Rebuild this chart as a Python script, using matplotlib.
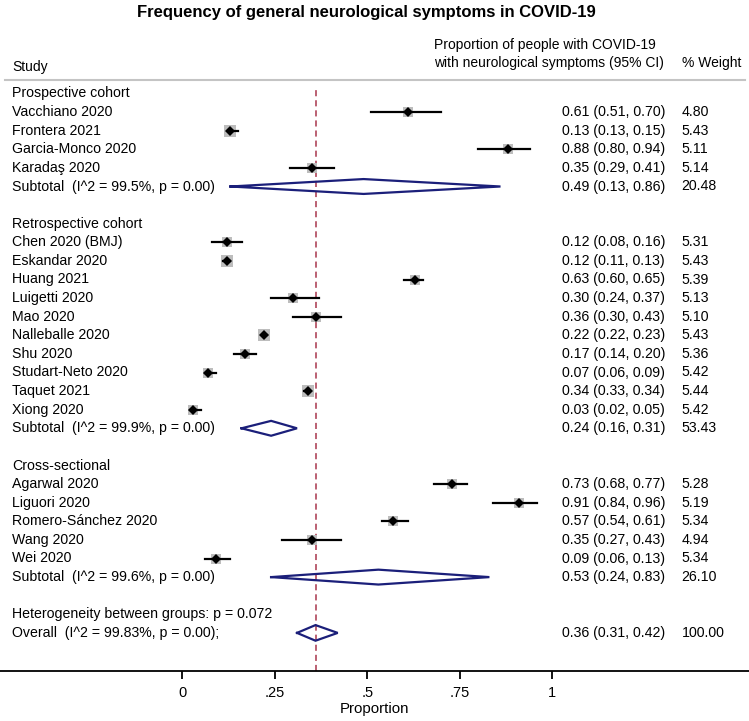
import numpy as np
import matplotlib.pyplot as plt
import matplotlib.transforms as mtransforms
from matplotlib.lines import Line2D

plt.rcParams['font.family'] = ['Liberation Sans', 'DejaVu Sans']

# ---- data ----
groups = ["Prospective cohort", "Retrospective cohort", "Cross-sectional"]

studies = [
    ["Vacchiano 2020", "Frontera 2021", "Garcia-Monco 2020", "Karadaş 2020"],
    ["Chen 2020 (BMJ)", "Eskandar 2020", "Huang 2021", "Luigetti 2020", "Mao 2020",
     "Nalleballe 2020", "Shu 2020", "Studart-Neto 2020", "Taquet 2021", "Xiong 2020"],
    ["Agarwal 2020", "Liguori 2020", "Romero-Sánchez 2020", "Wang 2020", "Wei 2020"],
]
est = [
    [0.61, 0.13, 0.88, 0.35],
    [0.12, 0.12, 0.63, 0.30, 0.36, 0.22, 0.17, 0.07, 0.34, 0.03],
    [0.73, 0.91, 0.57, 0.35, 0.09],
]
lo = [
    [0.51, 0.13, 0.80, 0.29],
    [0.08, 0.11, 0.60, 0.24, 0.30, 0.22, 0.14, 0.06, 0.33, 0.02],
    [0.68, 0.84, 0.54, 0.27, 0.06],
]
hi = [
    [0.70, 0.15, 0.94, 0.41],
    [0.16, 0.13, 0.65, 0.37, 0.43, 0.23, 0.20, 0.09, 0.34, 0.05],
    [0.77, 0.96, 0.61, 0.43, 0.13],
]
weight = [
    [4.80, 5.43, 5.11, 5.14],
    [5.31, 5.43, 5.39, 5.13, 5.10, 5.43, 5.36, 5.42, 5.44, 5.42],
    [5.28, 5.19, 5.34, 4.94, 5.34],
]
sub_est = [0.49, 0.24, 0.53]
sub_lo = [0.13, 0.16, 0.24]
sub_hi = [0.86, 0.31, 0.83]
sub_w = [20.48, 53.43, 26.10]
sub_i2 = ["99.5%", "99.9%", "99.6%"]

overall = (0.36, 0.31, 0.42)
overall_label = "Overall  (I^2 = 99.83%, p = 0.00);"
het_label = "Heterogeneity between groups: p = 0.072"

xticks = [0, 0.25, 0.5, 0.75, 1]
xticklabels = ["0", ".25", ".5", ".75", "1"]

# ---- layout (pixels of a 749x721 figure) ----
W, H = 749, 721
x0_px, x1_px = 182.3, 552.3      # where 0 and 1 sit on the axis
top_px, bot_px = 87, 671         # start of ref line and axis line
row0_px, row_h = 93.5, 18.6

navy = "#1b1f7a"
red = "#a8354c"
font = 10.2
hfont = 10

fig = plt.figure(figsize=(W / 100, H / 100), dpi=100)
ax = fig.add_axes([0, 1 - bot_px / H, 1, (bot_px - top_px) / H])

unit = x1_px - x0_px
ax.set_xlim(-x0_px / unit, (W - x0_px) / unit)
ax.set_ylim((bot_px - row0_px) / row_h, (top_px - row0_px) / row_h)

tr = mtransforms.blended_transform_factory(ax.transAxes, ax.transData)
xs, xe, xw = 12 / W, 562.5 / W, 681.5 / W


def diamond(y, c, l, h, half):
    ax.plot([l, c, h, c, l], [y, y - half, y, y + half, y], color=navy, lw=1.6,
            solid_joinstyle="miter", zorder=3)


def row_text(y, label, ci, w):
    ax.text(xs, y, label, transform=tr, va="center", fontsize=font)
    if ci:
        ax.text(xe, y, ci, transform=tr, va="center", fontsize=font)
    if w:
        ax.text(xw, y, w, transform=tr, va="center", fontsize=font)


row = 0
for g in range(len(groups)):
    row_text(row, groups[g], None, None)
    row += 1
    for i, name in enumerate(studies[g]):
        ax.plot([lo[g][i], hi[g][i]], [row, row], color="black", lw=1.6, zorder=3)
        ax.plot(est[g][i], row, marker="s", color="#bdbdbd", ms=3.4 * np.sqrt(weight[g][i]),
                mew=0, zorder=2)
        ax.plot(est[g][i], row, marker="D", color="black", ms=5, mew=0, zorder=4)
        row_text(row, name, f"{est[g][i]:.2f} ({lo[g][i]:.2f}, {hi[g][i]:.2f})",
                 f"{weight[g][i]:.2f}")
        row += 1
    diamond(row, sub_est[g], sub_lo[g], sub_hi[g], 0.40)
    row_text(row, f"Subtotal  (I^2 = {sub_i2[g]}, p = 0.00)",
             f"{sub_est[g]:.2f} ({sub_lo[g]:.2f}, {sub_hi[g]:.2f})", f"{sub_w[g]:.2f}")
    row += 2

row_text(row, het_label, None, None)
row += 1
diamond(row, overall[0], overall[1], overall[2], 0.42)
row_text(row, overall_label, f"{overall[0]:.2f} ({overall[1]:.2f}, {overall[2]:.2f})",
         "100.00")

# reference line at the overall estimate
ax.axvline(overall[0], color=red, lw=1.1, ls=(0, (4, 2.6)), zorder=1)

# axes styling
for side in ["left", "right", "top"]:
    ax.spines[side].set_visible(False)
ax.spines["bottom"].set_linewidth(1.3)
ax.set_yticks([])
ax.set_xticks(xticks)
ax.set_xticklabels(xticklabels, fontsize=10.5)
ax.tick_params(axis="x", direction="out", length=6, width=1.3, pad=5)
ax.set_xlabel("Proportion", fontsize=10.8, labelpad=1)

# header
fig.add_artist(Line2D([5 / W, 745 / W], [1 - 80 / H, 1 - 80 / H], color="#c4c4c4", lw=1.5))
fig.text(366 / W, 1 - 13 / H, "Frequency of general neurological symptoms in COVID-19",
         ha="center", va="center", fontsize=12, fontweight="bold")
fig.text(xs, 1 - 67 / H, "Study", va="center", fontsize=hfont)
fig.text(434 / W, 1 - 45 / H, "Proportion of people with COVID-19", va="center", fontsize=hfont)
fig.text(434 / W, 1 - 63 / H, "with neurological symptoms (95% CI)", va="center", fontsize=hfont)
fig.text(682 / W, 1 - 63 / H, "% Weight", va="center", fontsize=hfont)

fig.savefig("out.png", dpi=100)
